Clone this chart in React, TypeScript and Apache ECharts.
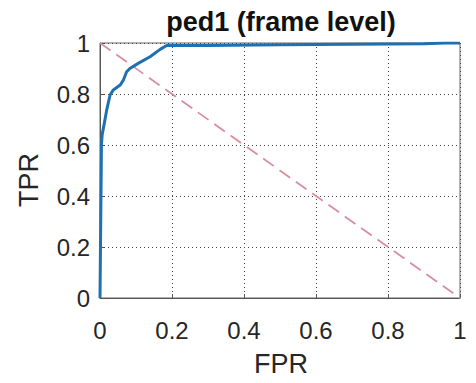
import React, { useEffect, useRef } from "react";
import * as echarts from "echarts";

const fpr = [0, 0.002, 0.004, 0.006, 0.01, 0.019, 0.028, 0.037, 0.056, 0.065, 0.074, 0.083, 0.106, 0.139, 0.167, 0.185, 0.3, 0.5, 0.7, 0.9, 0.96, 1];
const tpr = [0, 0.3, 0.6, 0.64, 0.67, 0.74, 0.796, 0.816, 0.835, 0.855, 0.887, 0.9, 0.92, 0.946, 0.975, 0.99, 0.99, 0.993, 0.995, 0.997, 1.0, 1.0];
const chanceX = [0, 1];
const chanceY = [1, 0];
const titleText = "ped1 (frame level)";
const xName = "FPR";
const yName = "TPR";

export default function App() {
  const ref = useRef<HTMLDivElement>(null);
  useEffect(() => {
    if (!ref.current) return;
    const chart = echarts.init(ref.current, null, { renderer: "svg" });
    const font = "'Liberation Sans', Arial, Helvetica, sans-serif";
    const axisCommon = {
      min: 0,
      max: 1,
      interval: 0.2,
      axisLine: { show: true, lineStyle: { color: "#555", width: 1 } },
      axisTick: { show: true, inside: true, length: 4, lineStyle: { color: "#555" } },
      splitLine: { show: true, lineStyle: { color: "#444", type: [1, 3], width: 1 } },
      axisLabel: {
        color: "#262626",
        fontFamily: font,
        fontSize: 24,
        formatter: (v: number) => String(Math.round(v * 10) / 10),
      },
    };
    chart.setOption({
      animation: false,
      backgroundColor: "#fff",
      grid: { left: 100, right: 16, top: 43, bottom: 85, show: true, borderColor: "#666", borderWidth: 1 },
      xAxis: { type: "value", ...axisCommon, axisLabel: { ...axisCommon.axisLabel, margin: 20 } },
      yAxis: { type: "value", ...axisCommon, axisLabel: { ...axisCommon.axisLabel, margin: 10 } },
      graphic: [
        {
          type: "text",
          x: 281,
          y: 22,
          style: { text: titleText, font: `bold 27px ${font}`, fill: "#111", textAlign: "center", textVerticalAlign: "middle" },
        },
        {
          type: "text",
          x: 281,
          y: 364,
          style: { text: xName, font: `27px ${font}`, fill: "#262626", textAlign: "center", textVerticalAlign: "middle" },
        },
        {
          type: "text",
          x: 29,
          y: 180,
          rotation: Math.PI / 2,
          style: { text: yName, font: `27px ${font}`, fill: "#262626", textAlign: "center", textVerticalAlign: "middle" },
        },
      ],
      series: [
        {
          type: "line",
          data: chanceX.map((x, i) => [x, chanceY[i]]),
          showSymbol: false,
          lineStyle: { color: "#d98ea0", width: 1.8, type: [13, 7] },
          z: 2,
        },
        {
          type: "line",
          data: fpr.map((x, i) => [x, tpr[i]]),
          showSymbol: false,
          lineStyle: { color: "#1f70b0", width: 3 },
          z: 3,
        },
      ],
    });
    return () => chart.dispose();
  }, []);
  return <div ref={ref} style={{ position: "fixed", left: 0, top: 0, width: 476, height: 383 }} />;
}
